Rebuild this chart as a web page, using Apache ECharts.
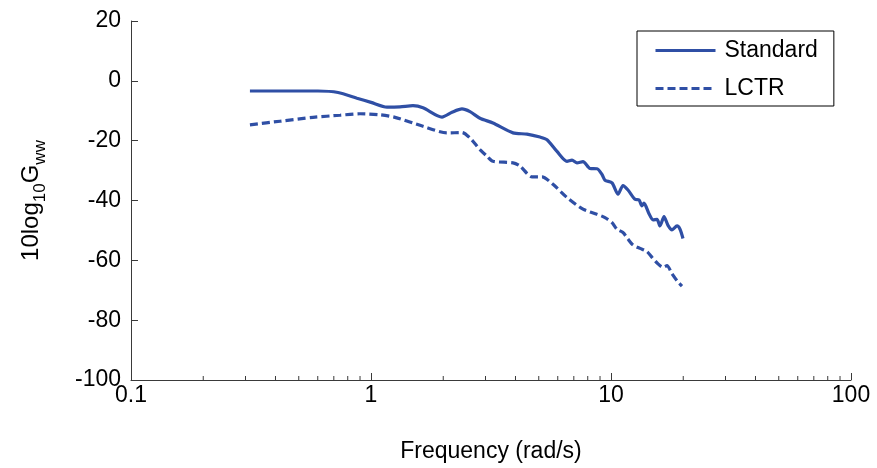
<!DOCTYPE html>
<html>
<head>
<meta charset="utf-8">
<script src="https://cdn.jsdelivr.net/npm/echarts@6/dist/echarts.min.js"></script>
<style>
html,body{margin:0;padding:0;background:#fff;}
#chart{width:877px;height:468px;}
</style>
</head>
<body>
<div id="chart"></div>
<script>
// Data
const stdFreq = [0.313, 0.601, 0.729, 0.874, 1.0, 1.166, 1.321, 1.496, 1.647, 1.976, 2.176, 2.394, 2.585, 2.845, 3.223, 3.906, 4.467, 5.06, 5.412, 5.957, 6.556, 6.879, 7.217, 7.645, 8.176, 8.745, 9.173, 9.441, 10.10, 10.70, 11.22, 11.77, 12.59, 13.08, 13.46, 13.72, 14.40, 14.96, 15.55, 16.0, 16.63, 17.28, 17.96, 18.84, 19.39, 19.95];
const stdVal  = [-3.4, -3.4, -3.9, -5.8, -7.2, -8.8, -8.7, -8.3, -9.0, -12.1, -10.5, -9.4, -10.3, -12.5, -14.1, -17.4, -17.8, -18.8, -19.7, -23.6, -26.9, -26.5, -27.4, -27.0, -29.3, -29.4, -31.3, -33.2, -34.1, -37.9, -35.0, -36.5, -39.6, -39.8, -41.8, -40.9, -44.4, -46.5, -46.3, -48.5, -45.4, -48.3, -49.8, -48.5, -49.6, -52.7];
const lctrFreq = [0.313, 0.418, 0.573, 0.743, 0.900, 1.090, 1.259, 1.647, 2.073, 2.394, 2.585, 2.845, 3.042, 3.223, 3.906, 4.178, 4.687, 5.158, 5.731, 6.556, 7.645, 8.745, 9.441, 10.10, 10.59, 11.22, 11.77, 12.35, 13.21, 14.13, 14.82, 15.70, 16.47, 17.11, 17.96, 18.84, 19.76];
const lctrVal  = [-14.7, -13.5, -12.2, -11.5, -11.0, -11.35, -12.2, -15.2, -17.4, -17.3, -19.1, -23.0, -25.2, -26.9, -27.4, -28.5, -32.1, -32.1, -34.6, -39.0, -42.9, -44.6, -45.7, -47.4, -49.6, -50.7, -52.9, -54.9, -56.0, -57.1, -59.0, -61.2, -62.3, -61.8, -64.5, -66.8, -68.6];
const seriesNames = ['Standard', 'LCTR'];
const xMajorTicks = [0.1, 1, 10, 100];
const xMinorTicks = [0.2, 0.3, 0.4, 0.5, 0.6, 0.7, 0.8, 0.9, 2, 3, 4, 5, 6, 7, 8, 9, 20, 30, 40, 50, 60, 70, 80, 90];
const yTicks = [-100, -80, -60, -40, -20, 0, 20];

const FONT = "'Liberation Sans', Arial, sans-serif";
const LINE = '#2F4FA5';
const AXIS = '#3a3a3a';

const chart = echarts.init(document.getElementById('chart'), null, {renderer: 'canvas'});
chart.setOption({
  backgroundColor: '#fff',
  animation: false,
  grid: {left: 131, right: 26, top: 21, bottom: 86, containLabel: false},
  legend: {
    orient: 'vertical',
    left: 637, top: 31,
    padding: [8, 16, 6, 17],
    itemWidth: 60, itemHeight: 14, itemGap: 15,
    borderColor: '#000', borderWidth: 1, backgroundColor: '#fff',
    itemStyle: {opacity: 0},
    lineStyle: {width: 3},
    textStyle: {fontFamily: FONT, fontSize: 23, color: '#000', lineHeight: 23, padding: [0, 0, 0, 4]},
    data: seriesNames
  },
  xAxis: {
    type: 'log', logBase: 10, min: xMajorTicks[0], max: xMajorTicks[xMajorTicks.length - 1],
    name: 'Frequency (rad/s)', nameLocation: 'middle', nameGap: 60,
    nameTextStyle: {fontFamily: FONT, fontSize: 23, color: '#000'},
    axisLine: {show: true, onZero: false, lineStyle: {color: AXIS, width: 1}},
    axisTick: {show: true, inside: true, length: 7, lineStyle: {color: AXIS}},
    axisLabel: {fontFamily: FONT, fontSize: 23, color: '#000', margin: 4,
      formatter: v => String(+v.toPrecision(3))},
    splitLine: {show: false},
    minorTick: {show: false}
  },
  yAxis: {
    type: 'value', min: yTicks[0], max: yTicks[yTicks.length - 1], interval: 20,
    name: '{n|10log}{s|10}{n|G}{s|ww}', nameLocation: 'middle', nameGap: 82,
    nameTextStyle: {
      fontFamily: FONT, fontSize: 23, color: '#000',
      rich: {
        n: {fontFamily: FONT, fontSize: 24, color: '#000', lineHeight: 30, verticalAlign: 'top'},
        s: {fontFamily: FONT, fontSize: 17, color: '#000', lineHeight: 30, verticalAlign: 'bottom', padding: [14, 0, 0, 0]}
      }
    },
    axisLine: {show: true, onZero: false, lineStyle: {color: AXIS, width: 1}},
    axisTick: {show: true, inside: true, length: 7, lineStyle: {color: AXIS}},
    axisLabel: {fontFamily: FONT, fontSize: 23, color: '#000', margin: 10},
    splitLine: {show: false}
  },
  series: [
    {
      name: seriesNames[0], type: 'line', showSymbol: false, symbol: 'none', smooth: 0.25,
      data: stdFreq.map((f, i) => [f, stdVal[i]]),
      lineStyle: {color: LINE, width: 3.2},
      itemStyle: {color: LINE}
    },
    {
      name: seriesNames[1], type: 'line', showSymbol: false, symbol: 'none', smooth: 0.25,
      data: lctrFreq.map((f, i) => [f, lctrVal[i]]),
      lineStyle: {color: LINE, width: 3.2, type: [8, 4]},
      itemStyle: {color: LINE}
    },
    {
      name: 'minorTicks', type: 'custom', silent: true, clip: false,
      data: xMinorTicks.map(v => [v, yTicks[0]]),
      renderItem: function (params, api) {
        const p = api.coord([api.value(0), api.value(1)]);
        return {type: 'line', shape: {x1: p[0], y1: p[1], x2: p[0], y2: p[1] - 4},
          style: {stroke: AXIS, lineWidth: 1}};
      },
      z: 5
    }
  ]
});
</script>
</body>
</html>
